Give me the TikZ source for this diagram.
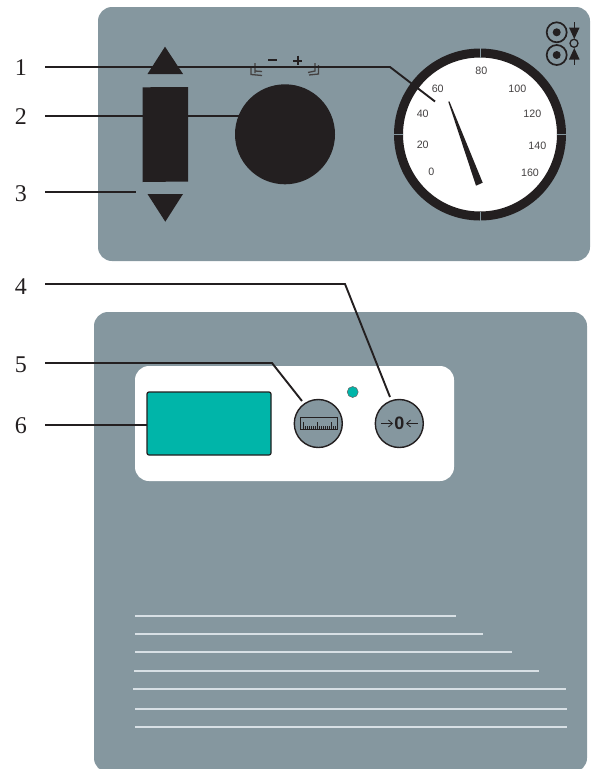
\documentclass[tikz,border=0pt]{standalone}
\usepackage{fontspec}
\setmainfont{Liberation Serif}
\setsansfont{Liberation Sans}
\usetikzlibrary{arrows.meta}
\definecolor{panel}{HTML}{85979F}
\definecolor{ink}{HTML}{231F20}
\definecolor{teal}{HTML}{00B5A9}
\definecolor{pale}{HTML}{D8E0E5}
\tikzset{
  numlabel/.style={font=\fontsize{24}{24}\selectfont,text=ink,inner sep=0pt},
  dialnum/.style={font=\sffamily\fontsize{10.7}{11}\selectfont,text=ink!85,inner sep=0pt},
  leader/.style={draw=ink,line width=1.9pt},
  textline/.style={draw=pale,line width=2pt},
  solid shape/.style={fill=ink,draw=none},
  roundbtn/.style={circle,draw=ink,line width=1.4pt,fill=panel,minimum size=48pt,inner sep=0pt},
  mark line/.style={draw=ink!85,line width=1.3pt},
}
\begin{document}
\begin{tikzpicture}[x=1pt,y=-1pt]
\useasboundingbox (0,0) rectangle (590,769);
% panels
\begin{scope}
\clip (0,0) rectangle (590,769);
\fill[panel,rounded corners=14pt] (98,7) rectangle (590,261);
\fill[panel,rounded corners=14pt] (94,312) rectangle (587,772);
\end{scope}
\fill[white,rounded corners=14pt] (135,366) rectangle (454,481);
% end points of the leaders
\foreach \n/\x/\y in {s1/45/67,k1/390/67,e1/435/101.5,s2/45/116,e2/240/116,s3/45/192,e3/136/192,
  s4/45/284,k4/345/284,e4/390/397,s5/45/363,k5/272/363,e5/302/401,s6/45/425,e6/148/425}
  {\coordinate (\n) at (\x,\y);}
% dial
\node[circle,fill=white,draw=ink,line width=9pt,minimum size=163pt,inner sep=0pt] (dial) at (480,134.5) {};
\foreach \a in {0,90,180,270}
  \draw[draw=panel,line width=.5pt] (480,134.5) ++(\a:77) -- ++(\a:9.5);
\node[dialnum] (n0) at (431.3,172.3) {0};
\node[dialnum] (n20) at (422.7,145) {20};
\node[dialnum] (n40) at (422.7,113.7) {40};
\node[dialnum] (n60) at (437.7,89.3) {60};
\node[dialnum] (n80) at (481.3,71.3) {80};
\node[dialnum] (n100) at (517.3,89.3) {100};
\node[dialnum] (n120) at (532.3,114) {120};
\node[dialnum] (n140) at (537.3,145.7) {140};
\node[dialnum] (n160) at (530,172.7) {160};
\fill[ink] (448.3,101.7) -- (449.4,101.3) -- (482.7,182.7) -- (476,185.7) -- cycle;
% minus / plus marks
\draw[mark line] (255,63) -- (255,73) (251,67) -- (251,74.5) -- (262,75.5) (255,71) -- (262,71.5);
\draw[mark line] (315,63) -- (315,71) -- (308,72.5) (318.5,65) -- (318.5,74) -- (309,75);
\draw[line width=2pt,ink] (268,60) -- (277,60);
\draw[line width=2pt,ink] (293,60.5) -- (302,60.5) (297.5,55.5) -- (297.5,65);
% leaders
\draw[leader] (s1) -- (k1) -- (e1);
\draw[leader] (s2) -- (e2);
\draw[leader,line width=1.4pt] (s3) -- (e3);
\draw[leader] (s4) -- (k4) -- (e4);
\draw[leader] (s5) -- (k5) -- (e5);
\draw[leader] (s6) -- (e6);
% left controls
\fill[solid shape] (165,46.7) -- (183,74) -- (147.5,74) -- cycle;
\fill[solid shape] (142.5,87.3) -- (188,87) -- (188,181.5) -- (142.5,182) -- cycle;
\fill[solid shape] (147.5,194) -- (183,194) -- (165.3,221.7) -- cycle;
\node[circle,fill=ink,minimum size=100pt,inner sep=0pt] (knob) at (285,134.3) {};
% top-right symbols
\node[circle,draw=ink,line width=1.7pt,minimum size=20pt,inner sep=0pt] (ra) at (556.7,32.3) {};
\node[circle,fill=ink,minimum size=8pt,inner sep=0pt] (rad) at (556.7,32.3) {};
\node[circle,draw=ink,line width=1.7pt,minimum size=20pt,inner sep=0pt] (rb) at (556.7,55) {};
\node[circle,fill=ink,minimum size=8pt,inner sep=0pt] (rbd) at (556.7,55) {};
\node[circle,draw=ink,line width=1.3pt,minimum size=8pt,inner sep=0pt] (rc) at (574,43.3) {};
\draw[ink,line width=1.4pt] (574.3,22) -- (574.3,30);
\fill[ink] (569,27.5) -- (579.6,27.5) -- (574.3,39) -- cycle;
\draw[ink,line width=1.4pt] (574.3,64.5) -- (574.3,56);
\fill[ink] (569,59.5) -- (579.6,59.5) -- (574.3,48) -- cycle;
% display, LED, buttons
\node[draw=ink,line width=1.2pt,fill=teal,minimum width=124pt,minimum height=63pt,inner sep=0pt,rounded corners=2pt] (disp) at (209,423.5) {};
\node[circle,fill=teal,draw=ink!70,line width=.5pt,minimum size=11pt,inner sep=0pt] (led) at (352.7,392) {};
\node[roundbtn] (scale) at (318.3,423.5) {};
\node[roundbtn] (zero) at (399.3,423.5) {};
\draw[ink,line width=1.3pt] (300.3,417.7) rectangle (337.3,429.3);
\foreach \x/\h in {303/7,305/3,307/3,309/3,311/3,313/3,315/3,317/7,319/3,321/3,323/3,325/3,327/3,329/3,331/7,333/3,335/3}
  \draw[ink,line width=.6pt] (\x,429) -- (\x,429-\h);
\node[font=\sffamily\bfseries\fontsize{18}{18}\selectfont,text=ink,inner sep=0pt] (zerotxt) at (399.5,423.5) {0};
\draw[ink,line width=.8pt,-{Straight Barb[length=4pt,width=7pt]}] (381,423.5) -- (393,423.5);
\draw[ink,line width=.8pt,-{Straight Barb[length=4pt,width=7pt]}] (417.5,423.5) -- (406,423.5);
% pale text lines
\draw[textline] (135,616) -- (456,616);
\draw[textline] (135,634) -- (483,634);
\draw[textline] (135,652) -- (512,652);
\draw[textline] (134,671) -- (539,671);
\draw[textline] (133,688.5) -- (566,688.5);
\draw[textline] (135,709) -- (567,709);
\draw[textline] (135,727) -- (567,727);
% number labels
\node[numlabel] (l1) at (21,68) {1};
\node[numlabel] (l2) at (21,117) {2};
\node[numlabel] (l3) at (21,194) {3};
\node[numlabel] (l4) at (21,287) {4};
\node[numlabel] (l5) at (21,365) {5};
\node[numlabel] (l6) at (21,426) {6};
\end{tikzpicture}
\end{document}
